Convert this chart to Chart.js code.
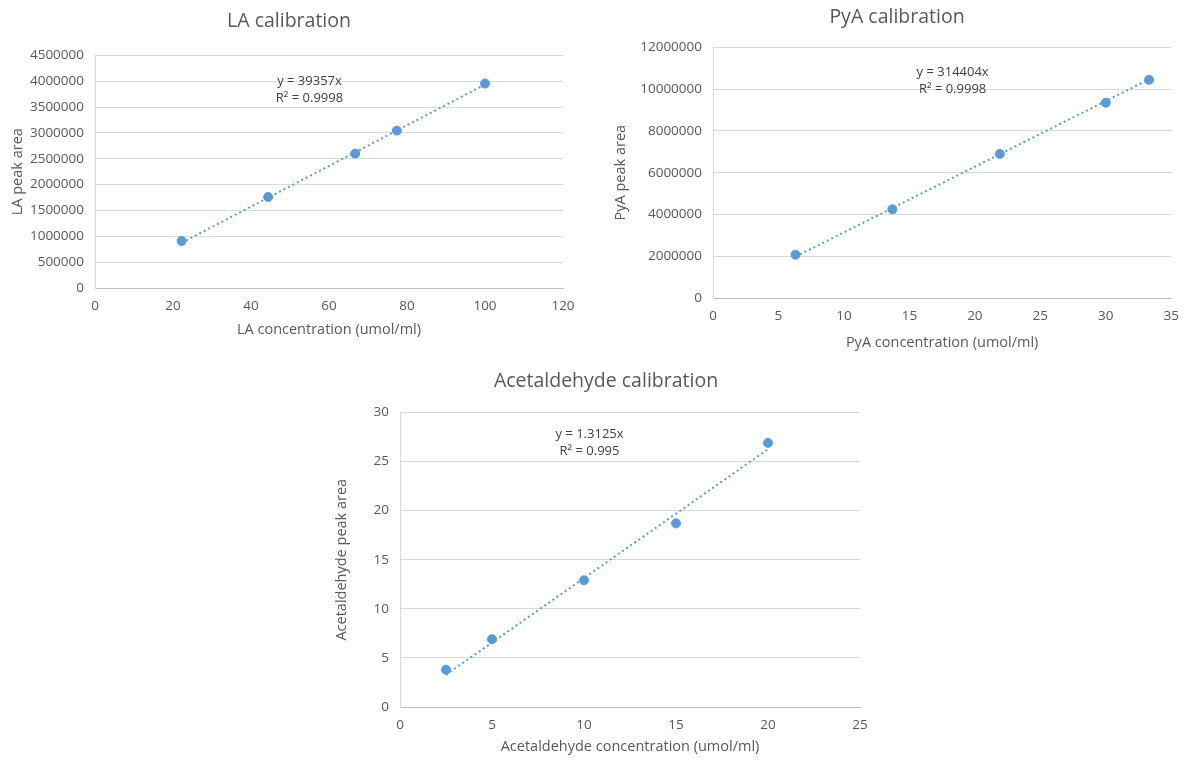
<!DOCTYPE html>
<html>
<head>
<meta charset="utf-8">
<script src="https://cdn.jsdelivr.net/npm/chart.js@4"></script>
<style>
  body { margin: 0; background: #fff; }
  .box { position: absolute; }
</style>
</head>
<body>
<div class="box" style="left:0px;top:0px;width:590px;height:345px"><canvas id="laChart"></canvas></div>
<div class="box" style="left:595px;top:0px;width:594px;height:360px"><canvas id="pyaChart"></canvas></div>
<div class="box" style="left:320px;top:365px;width:560px;height:396px"><canvas id="acetChart"></canvas></div>
<script>
// calibration data
const laConc = [22.2, 44.4, 66.7, 77.4, 100];
const laArea = [910000, 1760000, 2600000, 3045000, 3955000];
const laSlope = 39357;
const laEq = ['y = 39357x', 'R² = 0.9998'];

const pyaConc = [6.3, 13.7, 21.9, 30, 33.3];
const pyaArea = [2070000, 4250000, 6900000, 9350000, 10450000];
const pyaSlope = 314404;
const pyaEq = ['y = 314404x', 'R² = 0.9998'];

const acetConc = [2.5, 5, 10, 15, 20];
const acetArea = [3.8, 6.9, 12.9, 18.7, 26.9];
const acetSlope = 1.3125;
const acetEq = ['y = 1.3125x', 'R² = 0.995'];

const blue = '#5b9bd5';
const grey = '#595959';
const fontFam = "'Open Sans', sans-serif";

// draws the trendline equation text at a data position
const eqLabel = {
  id: 'eqLabel',
  afterLayout(chart, args, opts) {
    // recentre the title box where the reference has it
    const t = chart.titleBlock;
    if (t && opts.titleX) { t.left = opts.titleX - 200; t.right = opts.titleX + 200; }
  },
  afterDatasetsDraw(chart, args, opts) {
    const { ctx, scales: { x, y } } = chart;
    ctx.save();
    ctx.font = '13px ' + fontFam;
    ctx.fillStyle = '#404040';
    ctx.textAlign = 'center';
    ctx.textBaseline = 'middle';
    const px = x.getPixelForValue(opts.at[0]);
    const py = y.getPixelForValue(opts.at[1]);
    opts.lines.forEach((t, i) => ctx.fillText(t, px, py + i * 17));
    ctx.restore();
  }
};

function makeChart(id, cfg) {
  const xs = cfg.xs, ys = cfg.ys;
  const first = xs[0], last = xs[xs.length - 1];
  new Chart(document.getElementById(id), {
    type: 'scatter',
    data: {
      datasets: [
        {
          data: xs.map((v, i) => ({ x: v, y: ys[i] })),
          backgroundColor: blue,
          borderColor: blue,
          pointRadius: 4.5,
          pointHoverRadius: 4.5,
          order: 1,
        },
        {
          data: [{ x: first, y: cfg.slope * first }, { x: last, y: cfg.slope * last }],
          showLine: true,
          borderColor: blue,
          borderWidth: 2,
          borderDash: [2, 3],
          pointRadius: 0,
          order: 2,
        },
      ],
    },
    options: {
      animation: false,
      responsive: true,
      maintainAspectRatio: false,
      layout: { padding: { left: 0, right: cfg.padRight, top: 0, bottom: 0 } },
      plugins: {
        legend: { display: false },
        tooltip: { enabled: false },
        title: {
          display: true,
          text: cfg.title,
          color: grey,
          font: { family: fontFam, size: 19.5, weight: 'normal', lineHeight: 1.2 },
          padding: cfg.titlePad,
        },
        eqLabel: { at: cfg.eqAt, lines: cfg.eq, titleX: cfg.titleX },
      },
      scales: {
        x: {
          type: 'linear',
          min: 0, max: cfg.xMax,
          ticks: { stepSize: cfg.xStep, color: grey, padding: 10, font: { family: fontFam, size: 13.5 } },
          grid: { display: false, drawTicks: false },
          border: { display: true, color: '#bfbfbf', width: 1 },
          title: { display: true, text: cfg.xTitle, color: grey, font: { family: fontFam, size: 14.5 }, padding: { top: 0, bottom: cfg.xTitlePad } },
          afterFit: s => { s.height = cfg.xH; },
        },
        y: {
          type: 'linear',
          min: 0, max: cfg.yMax,
          ticks: { stepSize: cfg.yStep, color: grey, padding: 11, font: { family: fontFam, size: 13.5 }, callback: v => String(v) },
          grid: { color: '#d9d9d9', drawTicks: false },
          border: { display: true, color: '#d9d9d9', width: 1 },
          title: { display: true, text: cfg.yTitle, color: grey, font: { family: fontFam, size: 14.5 }, padding: { top: cfg.yTitlePad, bottom: 0 } },
          afterFit: s => { s.width = cfg.yW; },
        },
      },
    },
    plugins: [eqLabel],
  });
}

makeChart('laChart', {
  xs: laConc, ys: laArea, slope: laSlope, eq: laEq, eqAt: [55, 4000000],
  title: 'LA calibration', titlePad: { top: 10, bottom: 22 }, titleX: 289,
  xTitle: 'LA concentration (umol/ml)', yTitle: 'LA peak area',
  xMax: 120, xStep: 20, yMax: 4500000, yStep: 500000,
  yW: 95, xH: 57, padRight: 27, xTitlePad: 6, yTitlePad: 9,
});

makeChart('pyaChart', {
  xs: pyaConc, ys: pyaArea, slope: pyaSlope, eq: pyaEq, eqAt: [18.3, 10800000],
  title: 'PyA calibration', titlePad: { top: 6, bottom: 18 }, titleX: 302,
  xTitle: 'PyA concentration (umol/ml)', yTitle: 'PyA peak area',
  xMax: 35, xStep: 5, yMax: 12000000, yStep: 2000000,
  yW: 118, xH: 62, padRight: 9, xTitlePad: 8, yTitlePad: 17,
});

makeChart('acetChart', {
  xs: acetConc, ys: acetArea, slope: acetSlope, eq: acetEq, eqAt: [10.3, 27.8],
  title: 'Acetaldehyde calibration', titlePad: { top: 5, bottom: 19 }, titleX: 286,
  xTitle: 'Acetaldehyde concentration (umol/ml)', yTitle: 'Acetaldehyde peak area',
  xMax: 25, xStep: 5, yMax: 30, yStep: 5,
  yW: 80, xH: 54, padRight: 20, xTitlePad: 5, yTitlePad: 13,
});
</script>
</body>
</html>
